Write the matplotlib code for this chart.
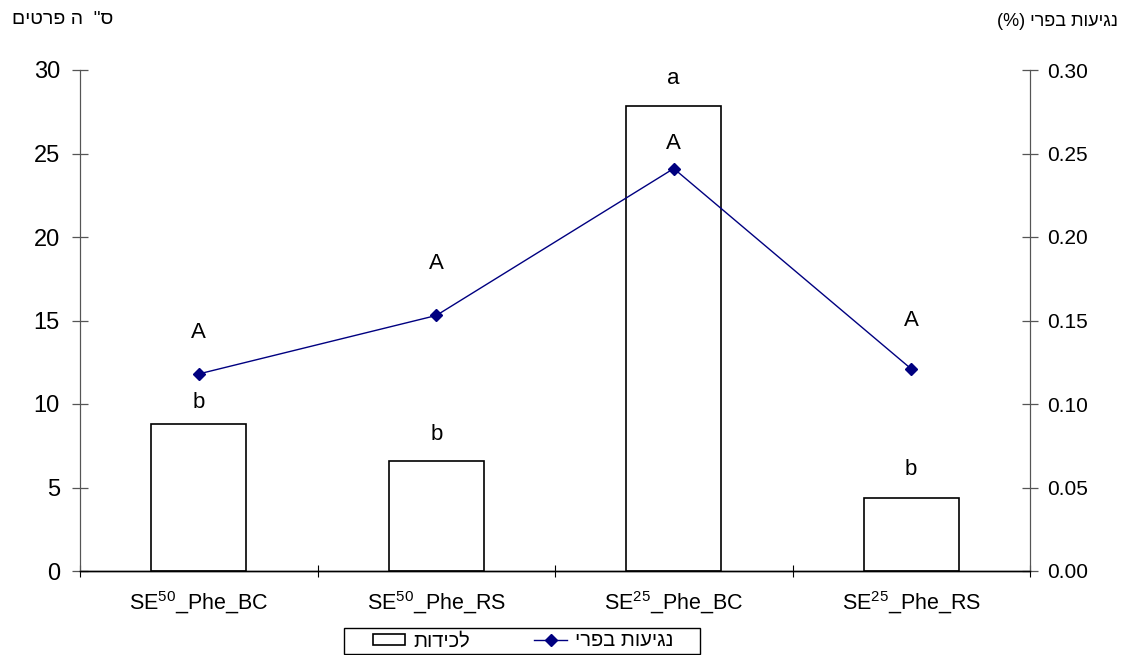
import matplotlib
matplotlib.use("Agg")
import matplotlib.pyplot as plt
from matplotlib.patches import Rectangle
import numpy as np

plt.rcParams['font.family'] = ['Liberation Sans', 'DejaVu Sans']
plt.rcParams['mathtext.fontset'] = 'custom'
plt.rcParams['mathtext.rm'] = 'Liberation Sans'
plt.rcParams['mathtext.it'] = 'Liberation Sans'

# data
groups = ['SE$^{50}$_Phe_BC', 'SE$^{50}$_Phe_RS', 'SE$^{25}$_Phe_BC', 'SE$^{25}$_Phe_RS']
trapped = [8.8, 6.6, 27.85, 4.4]            # left axis, bars
infest = [0.118, 0.153, 0.241, 0.121]       # right axis, line (%)
bar_letters = ['b', 'b', 'a', 'b']
bar_letter_y = [10.1, 8.2, 29.5, 6.05]
line_letters = ['A', 'A', 'A', 'A']
line_letter_y = [0.143, 0.184, 0.256, 0.150]


def rtl(s):
    # matplotlib has no bidi support: flip to visual order, mirror brackets
    s = s[::-1]
    return s.translate(str.maketrans('()', ')('))


lbl_bars = rtl('לכידות')
lbl_line = rtl('נגיעות בפרי')

W, H = 1125, 655
fig = plt.figure(figsize=(W / 100, H / 100), dpi=100)
ax = fig.add_axes([80 / W, 1 - 571 / H, 950 / W, 501 / H])
ax2 = ax.twinx()

x = np.arange(len(groups))
bars = ax.bar(x, trapped, width=0.4, color='white', edgecolor='black', linewidth=1.2,
              label=lbl_bars, zorder=2)
ln, = ax2.plot(x, infest, color='#000080', marker='D', markersize=6, linewidth=1.0,
               label=lbl_line)

ax.set_xlim(-0.5, 3.5)
ax.set_ylim(0, 30)
ax2.set_ylim(0, 0.30)
ax.set_yticks(np.arange(0, 31, 5))
ax2.set_yticks(np.arange(0, 0.31, 0.05))
ax2.set_yticklabels(['%.2f' % v for v in np.arange(0, 0.31, 0.05)])

ax.set_xticks(np.arange(-0.5, 3.6, 1.0))
ax.set_xticklabels([])
ax.set_xticks(x, minor=True)
ax.set_xticklabels(groups, minor=True, fontsize=15.5)
ax.tick_params(axis='x', which='minor', length=0, pad=13)
ax.tick_params(axis='x', which='major', direction='inout', length=8.5, width=0.8)
ax.tick_params(axis='y', direction='inout', length=11, width=0.9, color='#555555',
               labelsize=17, pad=9)
ax2.tick_params(axis='y', direction='inout', length=11, width=0.9, color='#555555',
                labelsize=15, pad=7)

for a in (ax, ax2):
    a.spines['top'].set_visible(False)
    a.spines['left'].set_color('#555555')
    a.spines['right'].set_color('#555555')
    a.spines['bottom'].set_color('black')
    a.spines['bottom'].set_linewidth(1.0)

for i in range(len(groups)):
    ax.text(x[i], bar_letter_y[i], bar_letters[i], ha='center', va='center', fontsize=16)
    ax2.text(x[i], line_letter_y[i], line_letters[i], ha='center', va='center', fontsize=16)

fig.text(12 / W, 1 - 20 / H, rtl('ס"  ה פרטים'), ha='left', va='center', fontsize=14)
fig.text(1118 / W, 1 - 21 / H, rtl('נגיעות בפרי (%)'), ha='right', va='center', fontsize=13)

leg = fig.legend([bars, ln], [lbl_bars, lbl_line], ncol=2, loc='center',
                 bbox_to_anchor=(523 / W, 1 - 641 / H), fontsize=14.5, frameon=False,
                 borderpad=0.0, handlelength=1.6, handleheight=0.45,
                 columnspacing=3.2, handletextpad=0.4)
# legend box as drawn in the original (wider than the entries)
fig.patches.append(Rectangle((344 / W, 1 - 654 / H), 356 / W, 26 / H,
                             transform=fig.transFigure, fill=False,
                             edgecolor='black', linewidth=1.0))

fig.savefig('out.png', dpi=100)
